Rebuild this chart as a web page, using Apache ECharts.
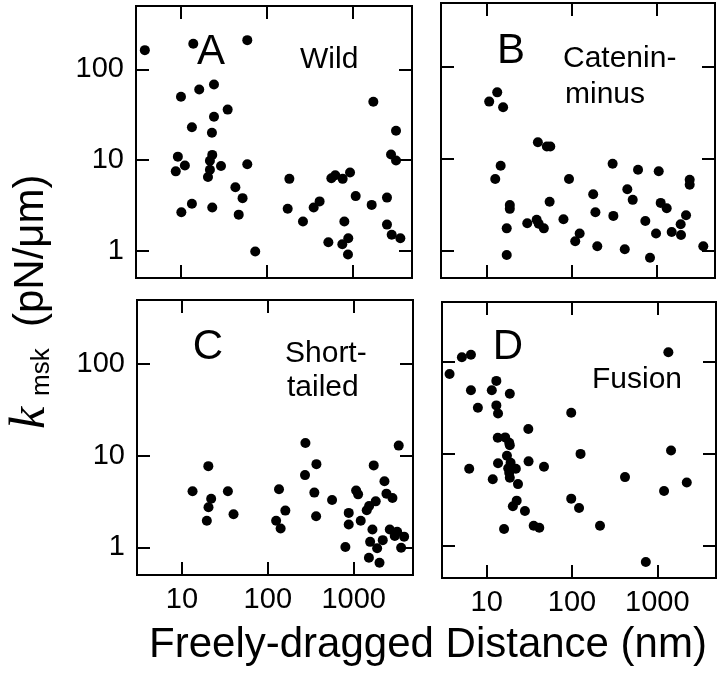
<!DOCTYPE html>
<html><head><meta charset="utf-8">
<script src="https://cdn.jsdelivr.net/npm/echarts@6/dist/echarts.min.js"></script>
<style>html,body{margin:0;padding:0;background:#fff}#c{width:720px;height:683px}</style>
</head><body><div id="c"></div>
<script>
// ---- data ----
const xTicks = [10, 100, 1000];
const yTicks = [1, 10, 100];
const panelLetters = ['A', 'B', 'C', 'D'];
const panelNames = [['Wild'], ['Catenin-', 'minus'], ['Short-', 'tailed'], ['Fusion']];
const xAxisTitle = 'Freely-dragged Distance (nm)';

const wildPoints = [[3.8,163],[13.9,192],[59,210],[24.2,68],[16.3,60],[10,50],[34.9,36],[24.2,30],[13.4,23],[22.9,20],
 [9.2,10.9],[23.1,11.4],[11.1,8.7],[21.7,9.8],[29.2,8.6],[59,9.0],[8.7,7.5],[21.7,7.8],[20.6,6.5],[42.9,5.0],
 [52,3.8],[13.4,3.3],[10.1,2.65],[23.1,3.0],[46.9,2.5],[73,0.98],[182,6.2],[174,2.9],[262,2.1],[349,3.0],
 [409,3.5],[560,6.3],[622,6.8],[758,6.2],[923,7.3],[1074,4.0],[793,2.1],[517,1.24],[751,1.18],[881,1.37],
 [874,0.91],[1723,44],[3162,21],[2766,11.5],[3162,9.9],[1648,3.2],[2483,3.85],[2483,1.94],[2817,1.5],[3551,1.37]];

const cateninPoints = [[10.7,42],[13.3,53],[15.6,36.5],[40,15.1],[51,13.6],[56,13.6],[14.6,8.4],[12.6,6.0],[93,6.0],[303,8.8],
 [603,7.6],[1056,7.3],[2443,5.9],[2443,5.2],[18.7,3.13],[18.7,2.84],[55,3.4],[179,4.1],[451,4.65],[522,3.56],
 [1114,3.3],[1311,2.88],[190,2.61],[309,2.38],[2213,2.42],[17.2,1.74],[30,1.98],[38.7,2.16],[40.9,1.95],[47,1.74],
 [80,2.19],[735,2.09],[1914,1.93],[124,1.53],[110,1.26],[200,1.11],[421,1.03],[982,1.53],[1500,1.59],[1931,1.47],
 [3532,1.11],[17.2,0.89],[834,0.83]];

const shortTailedPoints = [[13.3,4.1],[20.3,7.7],[21.9,3.4],[20.4,2.74],[34.3,4.1],[39.9,2.3],[19.5,1.95],[135,4.3],[160,2.52],[125,1.95],
 [141,1.61],[274,13.8],[271,6.15],[368,8.1],[348,3.96],[365,2.19],[560,3.29],[1067,4.17],[1125,3.79],[875,2.38],
 [875,1.78],[1207,1.95],[1418,2.54],[1511,2.83],[1804,3.18],[1710,7.85],[2280,5.26],[2405,3.86],[2825,3.46],[3342,12.9],
 [1652,1.57],[2630,1.57],[3206,1.48],[3006,1.33],[3863,1.31],[1553,1.15],[2178,1.2],[800,1.01],[1874,0.98],[3565,0.99],
 [1503,0.77],[1996,0.68]];

const fusionPoints = [[3.68,73.5],[5.13,112],[6.55,119],[13.0,62],[6.55,49],[11.5,49],[18.7,45],[7.9,31.7],[13.0,33.6],[13.6,27.5],
 [98,28],[1347,127],[30.8,18.6],[13.5,15],[16.5,15.1],[18.4,13.2],[18.7,12.4],[17.3,9.55],[126,10],[1448,10.9],
 [6.25,6.9],[13.6,7.9],[19.1,8.0],[31,8.3],[47,7.26],[17.9,7.0],[22,6.9],[18.4,6.25],[11.8,5.3],[18.7,5.5],
 [23.3,4.7],[418,5.6],[2213,4.9],[1199,3.96],[98,3.27],[22.5,3.11],[20.3,2.7],[121,2.59],[28.1,2.4],[16,1.53],
 [35.6,1.66],[41.4,1.58],[213,1.66],[733,0.67]];

// ---- layout ----
const FONT = "'Liberation Sans', Arial, Helvetica, sans-serif";
const SERIF = "'Liberation Serif', 'Times New Roman', serif";
const panels = [
  {grid:{left:136, top:6,   width:276, height:272}, xr:[3, 4850],   yr:[0.5, 500], xl:false, yl:true,  data:wildPoints},
  {grid:{left:441, top:3,   width:274, height:275}, xr:[2.9, 4850], yr:[0.5, 500], xl:false, yl:false, data:cateninPoints},
  {grid:{left:137, top:300, width:276, height:275}, xr:[3, 4900],   yr:[0.5, 500], xl:true,  yl:true,  data:shortTailedPoints},
  {grid:{left:442, top:302, width:274, height:276}, xr:[3, 4870],   yr:[0.45, 445], xl:true, yl:false, data:fusionPoints}
];

function fmt(list) {
  return function (v) {
    const r = Math.round(v);
    return (Math.abs(v - r) < 1e-6 * Math.max(1, r) && list.indexOf(r) >= 0) ? String(r) : '';
  };
}
const tickStyle = {show:true, inside:true, length:13, lineStyle:{color:'#000', width:2}};

const grids = [], xAxes = [], yAxes = [], series = [];
panels.forEach(function (p, i) {
  grids.push(Object.assign({show:true, borderColor:'#000', borderWidth:2, containLabel:false, outerBoundsMode:'none'}, p.grid));
  ['bottom', 'top'].forEach(function (pos) {
    xAxes.push({type:'log', logBase:10, gridIndex:i, position:pos, min:p.xr[0], max:p.xr[1],
      axisLine:{show:false}, axisTick:tickStyle, splitLine:{show:false}, minorTick:{show:false},
      axisLabel:{show: pos === 'bottom' && p.xl, margin:10, fontSize:29, color:'#000', fontFamily:FONT,
        showMinLabel:false, showMaxLabel:false, formatter: fmt(xTicks)}});
  });
  ['left', 'right'].forEach(function (pos) {
    yAxes.push({type:'log', logBase:10, gridIndex:i, position:pos, min:p.yr[0], max:p.yr[1],
      axisLine:{show:false}, axisTick:tickStyle, splitLine:{show:false}, minorTick:{show:false},
      axisLabel:{show: pos === 'left' && p.yl, margin:12, fontSize:29, color:'#000', fontFamily:FONT,
        showMinLabel:false, showMaxLabel:false, formatter: fmt(yTicks)}});
  });
  series.push({type:'scatter', xAxisIndex:2*i, yAxisIndex:2*i, data:p.data, symbol:'circle', symbolSize:10,
    itemStyle:{color:'#000', opacity:1}, silent:true, animation:false});
});

function txt(t, x, y, size, align, extra) {
  return {type:'text', x:x, y:y, silent:true, style:Object.assign({text:t, font: size + 'px ' + FONT, fill:'#000',
    textAlign:align || 'left', textVerticalAlign:'middle'}, extra || {})};
}
const letterPos = [[211,52],[511,51],[208,347],[508,347]];
const namePos = [[[300,59.5]], [[563,58.5],[565,94.3]], [[285,354],[287,387.3]], [[592,380]]];
const graphics = [];
panelLetters.forEach(function (L, i) {
  graphics.push(txt(L, letterPos[i][0], letterPos[i][1], 42, 'center'));
  panelNames[i].forEach(function (line, j) {
    graphics.push(txt(line, namePos[i][j][0], namePos[i][j][1], 30, 'left'));
  });
});
graphics.push(txt(xAxisTitle, 428, 645, 42, 'center'));
graphics.push({type:'group', x:31, y:429, rotation:Math.PI/2, silent:true, children:[
  {type:'text', x:0, y:0, style:{text:'k', font:'italic 50px ' + SERIF, fill:'#000', textAlign:'left', textVerticalAlign:'middle'}},
  {type:'text', x:33, y:11, style:{text:'msk', font:'26px ' + FONT, fill:'#000', textAlign:'left', textVerticalAlign:'middle'}},
  {type:'text', x:102, y:0, style:{text:'(pN/\u03bcm)', font:'42px ' + FONT, fill:'#000', textAlign:'left', textVerticalAlign:'middle'}}
]});

const chart = echarts.init(document.getElementById('c'), null, {renderer:'canvas'});
chart.setOption({
  animation:false, backgroundColor:'#fff',
  grid:grids, xAxis:xAxes, yAxis:yAxes, series:series, graphic:graphics
});
</script></body></html>
